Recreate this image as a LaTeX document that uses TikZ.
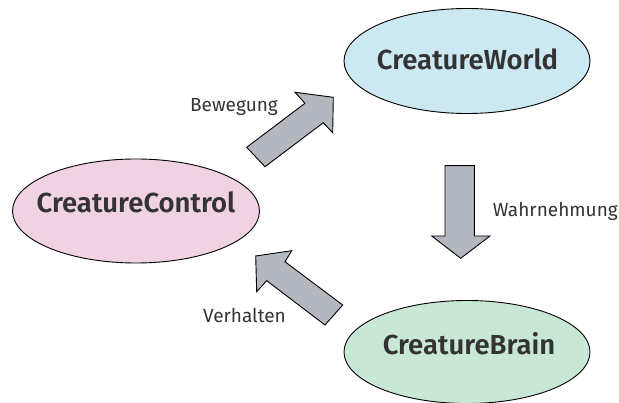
\documentclass[tikz,border=0pt]{standalone}
\usepackage{fontspec}
\setmainfont{Fira Sans}[BoldFont={Fira Sans SemiBold}]
\usetikzlibrary{shapes.geometric}
\definecolor{txt}{HTML}{333333}
\definecolor{worldfill}{HTML}{CCE8F3}
\definecolor{ctrlfill}{HTML}{F1D2E3}
\definecolor{brainfill}{HTML}{C9E7D5}
\definecolor{arrowfill}{HTML}{B3B8C0}
\tikzset{
  blob/.style={ellipse, draw=black, line width=0.9pt, inner sep=0pt,
    minimum width=246pt, minimum height=105pt},
  title/.style={anchor=base, text=txt, inner sep=0pt,
    font=\fontsize{27.5}{30}\selectfont\bfseries},
  flowlabel/.style={anchor=base, text=txt, inner sep=0pt,
    font=\fontsize{19}{22}\selectfont},
  blockarrow/.style={fill=arrowfill, draw=black, line width=0.9pt, line join=miter}
}
\begin{document}
\begin{tikzpicture}[x=1pt, y=-1pt]
  \useasboundingbox (0,0) rectangle (619,403);
  % the three modules
  \node[blob, fill=worldfill] (world) at (467,61) {};
  \node[blob, fill=ctrlfill, minimum width=247pt, minimum height=104pt] (ctrl) at (136,211) {};
  \node[blob, fill=brainfill, minimum height=103pt] (brain) at (467,352) {};
  \node[title] (worldtxt) at (467.5,70) {CreatureWorld};
  \node[title] (ctrltxt) at (136,213) {CreatureControl};
  \node[title] (braintxt) at (469,355) {CreatureBrain};
  % block arrows of the cycle
  \draw[blockarrow] (246.7,147.3) -- (305,103.3) -- (295,92.3) -- (333.3,97.3)
    -- (332.7,132.7) -- (323.3,122.7) -- (265,166.7) -- cycle;
  \draw[blockarrow] (445,165.7) -- (474.3,165.7) -- (474.3,236) -- (490,236)
    -- (460.7,258.3) -- (431.7,236) -- (445,236) -- cycle;
  \draw[blockarrow] (342.7,305) -- (285,261.7) -- (291.7,250.7) -- (255.7,256)
    -- (256.7,291.7) -- (266.7,280.7) -- (325,325) -- cycle;
  % arrow labels
  \node[flowlabel] (bew) at (234,112) {Bewegung};
  \node[flowlabel] (wahr) at (555.3,216.7) {Wahrnehmung};
  \node[flowlabel] (verh) at (244.5,322.7) {Verhalten};
\end{tikzpicture}
\end{document}
